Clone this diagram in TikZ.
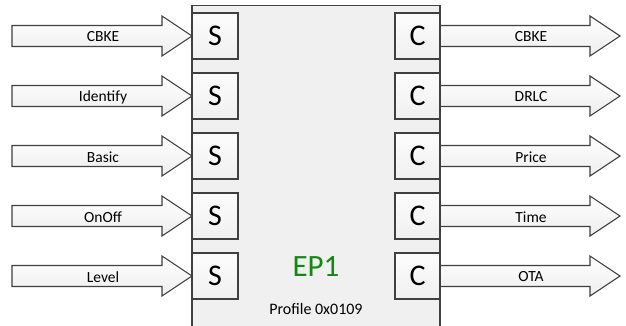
\documentclass[tikz,border=0pt]{standalone}
\usepackage{fontspec}
\setmainfont{Carlito}
\definecolor{linec}{HTML}{404040}
\definecolor{blockfill}{HTML}{F0F0F0}
\definecolor{eptext}{HTML}{128A12}
\tikzset{
  barrow/.style={draw=linec, line width=1.1pt, top color=white, bottom color=gray!14, line join=miter},
  arrlabel/.style={font=\fontsize{15.5}{17}\selectfont, inner sep=0pt},
  portbox/.style={draw=linec, line width=1.1pt, top color=gray!2, bottom color=gray!12,
    minimum width=46pt, minimum height=46pt, inner sep=0pt, font=\fontsize{30}{32}\selectfont},
  mainblock/.style={draw=linec, line width=1.1pt, fill=blockfill}
}
% #1 name, #2 x start, #3 y centre, #4 label
\newcommand\blockarrow[4]{%
  \draw[barrow] (#2,#3-10.5) -- (#2+150,#3-10.5) -- (#2+150,#3-20) -- (#2+180,#3)
    -- (#2+150,#3+20) -- (#2+150,#3+10.5) -- (#2,#3+10.5) -- cycle;
  \node[arrlabel] (#1) at (#2+91,#3+1) {#4};
}
\begin{document}
\begin{tikzpicture}[x=1pt,y=-1pt]
\useasboundingbox (0,0) rectangle (626,326);
\clip (0,0) rectangle (626,326);
\fill[white] (0,0) rectangle (626,326);
\draw[mainblock] (192,5.5) rectangle (440,345);
\node[font=\fontsize{31}{33}\selectfont, text=eptext] (ep) at (316,267) {EP1};
\node[font=\fontsize{16}{18}\selectfont] (prof) at (316,309) {Profile 0x0109};
% inputs
\blockarrow{inA}{12}{36}{CBKE}
\blockarrow{inB}{12}{96}{Identify}
\blockarrow{inC}{12}{156}{Basic}
\blockarrow{inD}{12}{216}{OnOff}
\blockarrow{inE}{12}{276}{Level}
% outputs
\blockarrow{outA}{440}{36}{CBKE}
\blockarrow{outB}{440}{96}{DRLC}
\blockarrow{outC}{440}{156}{Price}
\blockarrow{outD}{440}{216}{Time}
\blockarrow{outE}{440}{276}{OTA}
% ports
\foreach \i/\y in {1/36,2/96,3/156,4/216,5/276}{
  \node[portbox] (s\i) at (215,\y) {S};
  \node[portbox, minimum width=45pt] (c\i) at (417.5,\y) {C};
}
\end{tikzpicture}
\end{document}
